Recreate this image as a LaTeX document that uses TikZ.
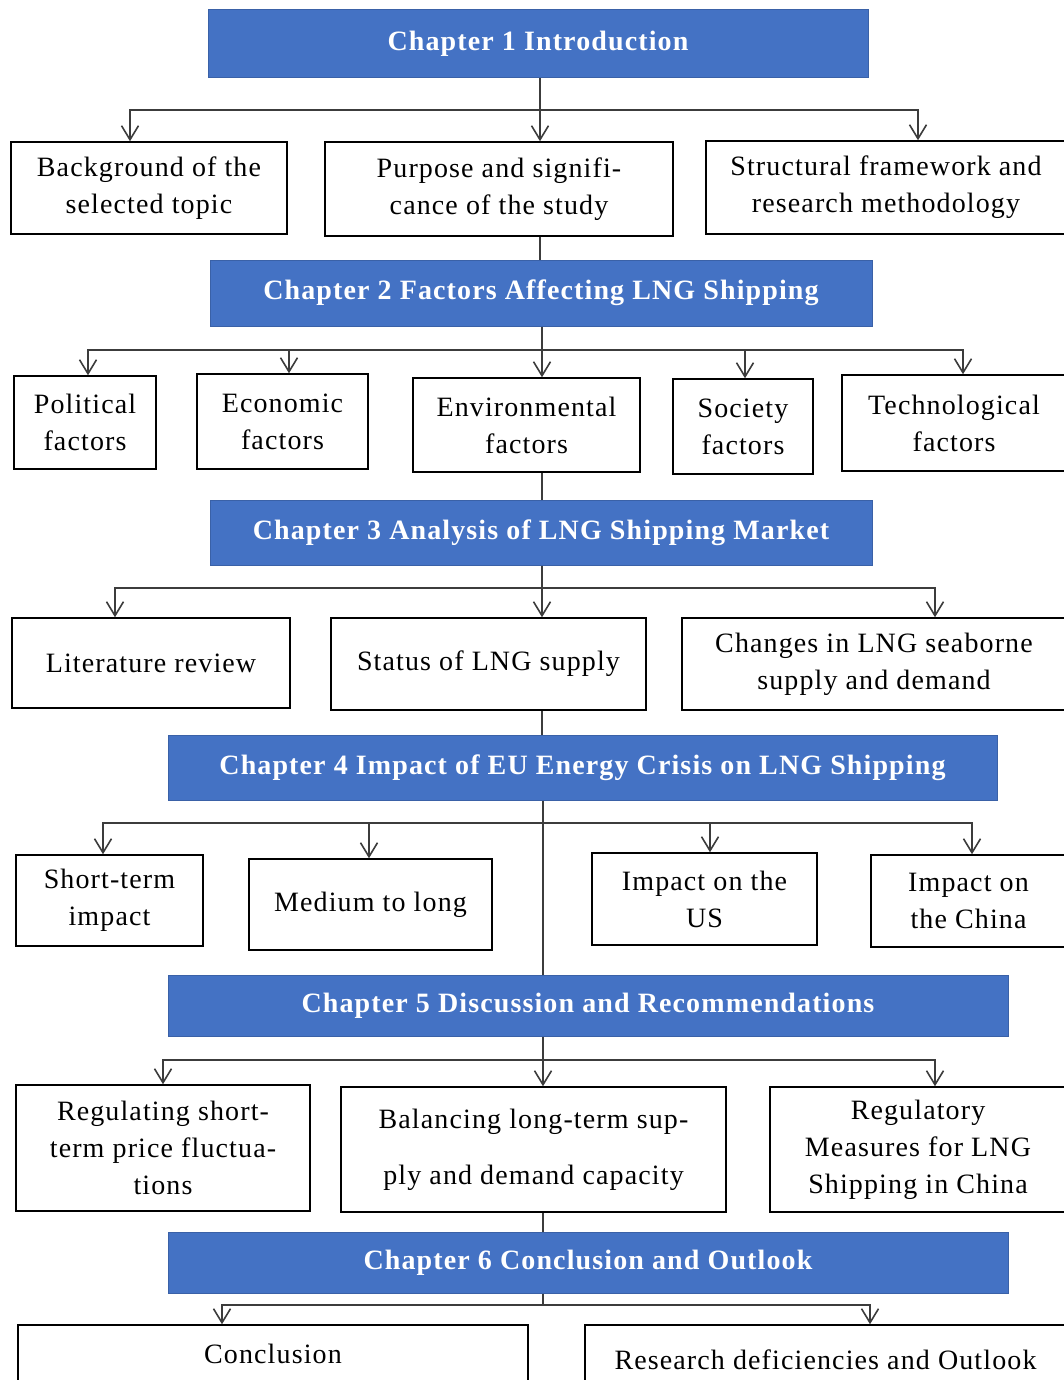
\documentclass[tikz,border=0pt]{standalone}
\usepackage{fontspec}
\setmainfont{Liberation Serif}[LetterSpace=4]
\usetikzlibrary{arrows.meta,positioning}
\definecolor{barblue}{HTML}{4472C4}
\definecolor{linegrey}{HTML}{3C3C3C}

\begin{document}
\begin{tikzpicture}[x=1pt,y=-1pt,
    chap/.style={fill=barblue, draw=barblue!85!black, line width=1pt, text=white,
        font=\fontsize{28}{34}\selectfont\bfseries, inner sep=0pt},
    item/.style={draw=black, line width=1.5pt, fill=white, align=center, inner sep=0pt,
        font=\fontsize{28}{37}\selectfont},
    link/.style={draw=linegrey, line width=1.8pt},
    arr/.style={link, -{Straight Barb[length=14pt,width=17pt,line width=1.6pt]}}]

    \fill[white] (0,0) rectangle (1063,1380);
    \useasboundingbox (0,0) rectangle (1063,1380);

    % chapter 1
    \node[chap, minimum width=660pt, minimum height=68pt] (ch1) at (538,44) {Chapter 1 Introduction};
    \node[item, minimum width=276pt, minimum height=92pt] (bg) at (149,188) {Background of the\\selected topic};
    \node[item, minimum width=348pt, minimum height=94pt] (pu) at (499,189) {Purpose and signifi-\\cance of the study};
    \node[item, minimum width=360pt, minimum height=93pt] (sf) at (886,187.5) {Structural framework and\\research methodology};
    \coordinate (j1) at (540,110);
    \draw[link] (ch1.south -| j1) -- (j1);
    \draw[arr] (j1) -| ([xshift=-19pt]bg.north);
    \draw[arr] (j1) -- (j1 |- pu.north);
    \draw[arr] (j1) -| ([xshift=32pt]sf.north);

    % chapter 2
    \node[chap, minimum width=662pt, minimum height=66pt] (ch2) at (541,293) {Chapter 2 Factors Affecting LNG Shipping};
    \draw[link] (pu.south -| j1) -- (ch2.north -| j1);
    \node[item, minimum width=142pt, minimum height=93pt] (pol) at (85,422.5) {Political\\factors};
    \node[item, minimum width=171pt, minimum height=95pt] (eco) at (282.5,421.5) {Economic\\factors};
    \node[item, minimum width=227pt, minimum height=94pt] (env) at (526.5,425) {Environmental\\factors};
    \node[item, minimum width=140pt, minimum height=95pt] (soc) at (743,426.5) {Society\\factors};
    \node[item, minimum width=224pt, minimum height=96pt] (tec) at (954,423) {Technological\\factors};
    \coordinate (j2) at (542,350);
    \draw[link] (ch2.south -| j2) -- (j2);
    \draw[arr] (j2) -| ([xshift=3pt]pol.north);
    \draw[arr] (j2) -| ([xshift=6.5pt]eco.north);
    \draw[arr] (j2) -- (j2 |- env.north);
    \draw[arr] (j2) -| ([xshift=2pt]soc.north);
    \draw[arr] (j2) -| ([xshift=9pt]tec.north);

    % chapter 3
    \node[chap, minimum width=662pt, minimum height=65pt] (ch3) at (541,532.5) {Chapter 3 Analysis of LNG Shipping Market};
    \draw[link] (env.south -| j2) -- (ch3.north -| j2);
    \node[item, minimum width=278pt, minimum height=90pt] (lit) at (151,663) {Literature review};
    \node[item, minimum width=315pt, minimum height=92pt] (sta) at (488.5,664) {Status of LNG supply};
    \node[item, minimum width=384pt, minimum height=92pt] (chg) at (874,664) {Changes in LNG seaborne\\supply and demand};
    \coordinate (j3) at (542,588);
    \draw[link] (ch3.south -| j3) -- (j3);
    \draw[arr] (j3) -| ([xshift=-36pt]lit.north);
    \draw[arr] (j3) -- (j3 |- sta.north);
    \draw[arr] (j3) -| ([xshift=61pt]chg.north);

    % chapter 4
    \node[chap, minimum width=829pt, minimum height=65pt] (ch4) at (582.5,767.5) {Chapter 4 Impact of EU Energy Crisis on LNG Shipping};
    \draw[link] (sta.south -| j3) -- (ch4.north -| j3);
    \node[item, minimum width=187pt, minimum height=91pt] (sh) at (109.5,900.5) {Short-term\\impact};
    \node[item, minimum width=243pt, minimum height=91pt] (med) at (370.5,904.5) {Medium to long};
    \node[item, minimum width=225pt, minimum height=92pt] (us) at (704.5,899) {Impact on the\\US};
    \node[item, minimum width=195pt, minimum height=92pt] (cn) at (968.5,901) {Impact on\\the China};
    \coordinate (j4) at (543,823);
    \draw[link] (ch4.south -| j4) -- (j4);
    \draw[arr] (j4) -| ([xshift=-6.5pt]sh.north);
    \draw[arr] (j4) -| ([xshift=-1.5pt]med.north);
    \draw[arr] (j4) -| ([xshift=5.5pt]us.north);
    \draw[arr] (j4) -| ([xshift=3.5pt]cn.north);

    % chapter 5
    \node[chap, minimum width=840pt, minimum height=61pt] (ch5) at (588,1005.5) {Chapter 5 Discussion and Recommendations};
    \draw[link] (j4) -- (ch5.north -| j4);
    \node[item, minimum width=294pt, minimum height=126pt] (reg) at (163,1148) {Regulating short-\\term price fluctua-\\tions};
    \node[item, minimum width=385pt, minimum height=125pt, font=\fontsize{28}{56}\selectfont] (bal) at (533.5,1149.5) {Balancing long-term sup-\\ply and demand capacity};
    \node[item, minimum width=296pt, minimum height=125pt] (rm) at (918,1149.5) {Regulatory\\Measures for LNG\\Shipping in China};
    \coordinate (j5) at (543,1060);
    \draw[link] (ch5.south -| j5) -- (j5);
    \draw[arr] (j5) -| (reg.north);
    \draw[arr] (j5) -- (j5 |- bal.north);
    \draw[arr] (j5) -| ([xshift=17pt]rm.north);

    % chapter 6
    \node[chap, minimum width=840pt, minimum height=61pt] (ch6) at (588,1262.5) {Chapter 6 Conclusion and Outlook};
    \draw[link] (bal.south -| j5) -- (ch6.north -| j5);
    \node[item, minimum width=510pt, minimum height=58pt] (con) at (273,1354) {Conclusion};
    \node[item, minimum width=481pt, minimum height=70pt] (rd) at (825.5,1360) {Research deficiencies and Outlook};
    \coordinate (j6) at (543,1305);
    \draw[link] (ch6.south -| j6) -- (j6);
    \draw[arr] (j6) -| ([xshift=-51pt]con.north);
    \draw[arr] (j6) -| ([xshift=44.5pt]rd.north);
\end{tikzpicture}
\end{document}
